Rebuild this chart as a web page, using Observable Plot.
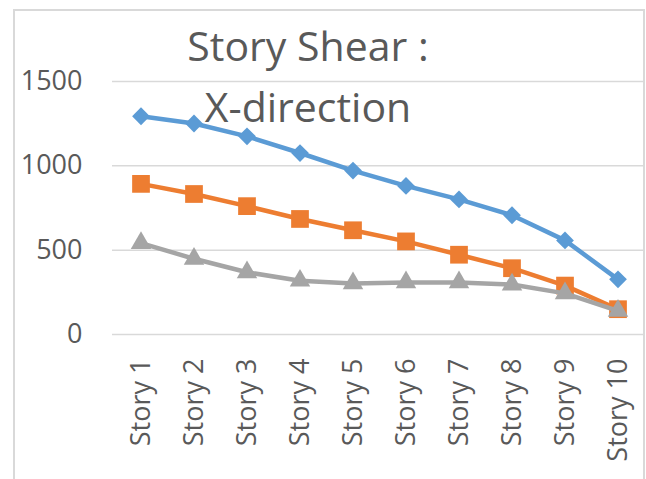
<!DOCTYPE html>
<html>
<head>
<meta charset="utf-8">
<script src="https://cdn.jsdelivr.net/npm/d3@7"></script>
<script src="https://cdn.jsdelivr.net/npm/@observablehq/plot@0.6"></script>
<style>
  html, body { margin: 0; padding: 0; background: #fff; }
  #wrap { position: relative; width: 646px; height: 479px; overflow: hidden; }
  #border { position: absolute; left: 13px; top: 9px; width: 628px; height: 480px;
            border: 2px solid #D9D9D9; border-bottom: none; }
  #chart { position: absolute; left: 0; top: 0; }
</style>
</head>
<body>
<div id="wrap"><div id="border"></div><div id="chart"></div></div>
<script>
const stories = ["Story 1", "Story 2", "Story 3", "Story 4", "Story 5", "Story 6", "Story 7", "Story 8", "Story 9", "Story 10"];
const seriesBlue = [1294, 1251, 1175, 1076, 972, 881, 801, 707, 558, 327];
const seriesOrange = [893, 833, 761, 685, 618, 552, 473, 393, 290, 150];
const seriesGray = [542, 449, 369, 319, 303, 309, 309, 296, 244, 140];
const yTicks = [0, 500, 1000, 1500];
const titleText = "Story Shear :\nX-direction";

const series = [
  {name: "Series 1", values: seriesBlue, color: "#5B9BD5", symbol: "diamond2", r: 8},
  {name: "Series 2", values: seriesOrange, color: "#ED7D31", symbol: "square", r: 10},
  {name: "Series 3", values: seriesGray, color: "#A5A5A5", symbol: "triangle", r: 7.6}
];

const marks = [
  Plot.gridY(yTicks, {stroke: "#D9D9D9", strokeOpacity: 1, strokeWidth: 1.5}),
  Plot.axisY(yTicks, {tickSize: 0, tickPadding: 30, fontSize: 27, fill: "#595959", tickFormat: d => String(d)}),
  Plot.axisX({tickSize: 0, tickPadding: 24, tickRotate: -90, fontSize: 27, fill: "#595959"})
];
for (const s of series) {
  const data = stories.map((st, i) => ({story: st, value: s.values[i]}));
  marks.push(Plot.line(data, {x: "story", y: "value", stroke: s.color, strokeWidth: 4.5, strokeLinejoin: "round", strokeLinecap: "round"}));
  marks.push(Plot.dot(data, {x: "story", y: "value", fill: s.color, symbol: s.symbol, r: s.r, stroke: "none"}));
}
marks.push(Plot.text([titleText], {
  frameAnchor: "top", dx: -71, dy: -9.5, text: d => d,
  fontSize: 41, lineHeight: 1.49, lineAnchor: "middle", textAnchor: "middle", fill: "#595959"
}));

const chart = Plot.plot({
  width: 646,
  height: 479,
  marginLeft: 112,
  marginRight: 1,
  marginTop: 81,
  marginBottom: 145,
  style: {fontFamily: "'Open Sans', sans-serif", background: "transparent", color: "#595959"},
  x: {type: "band", domain: stories, padding: 0, label: null},
  y: {domain: [0, 1500], label: null},
  marks
});
document.getElementById("chart").appendChild(chart);
</script>
</body>
</html>
